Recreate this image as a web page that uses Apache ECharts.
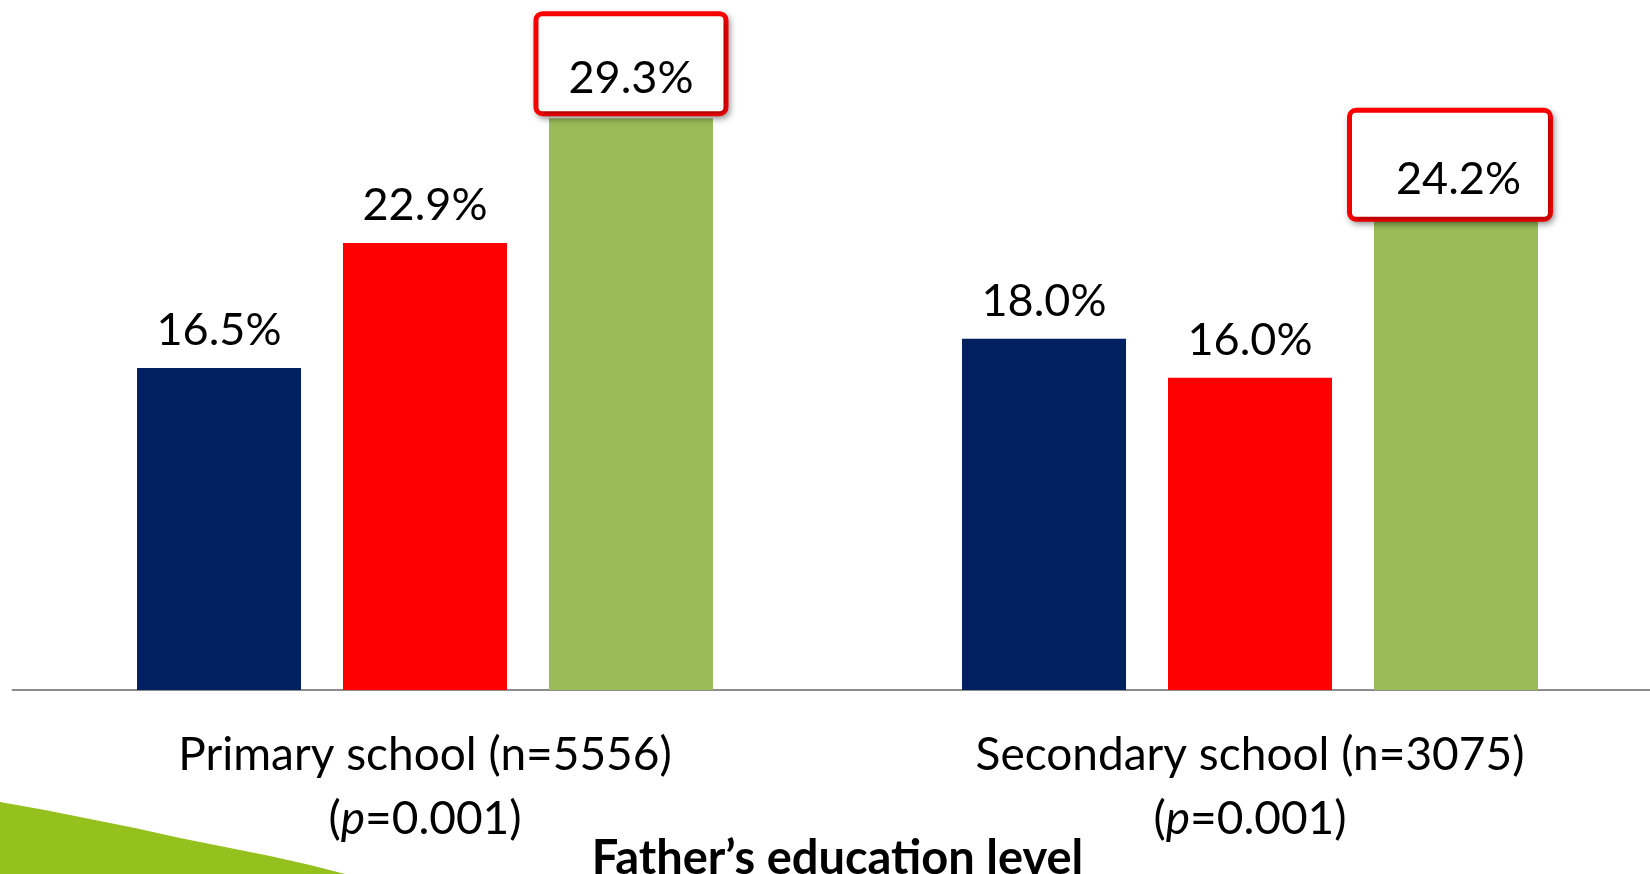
<!DOCTYPE html>
<html>
<head>
<meta charset="utf-8">
<script src="https://cdn.jsdelivr.net/npm/echarts@6/dist/echarts.min.js"></script>
<style>
  html, body { margin: 0; padding: 0; background: #fff; }
  #chart { width: 1650px; height: 874px; }
</style>
</head>
<body>
<div id="chart"></div>
<script>
// Father's education level groups
const categories = ['Primary school (n=5556)', 'Secondary school (n=3075)'];
const pValues = ['0.001', '0.001'];

// Percentages per group
const seriesNames = ['Group 1', 'Group 2', 'Group 3'];
const valuesNavy = [16.5, 18.0];
const valuesRed = [22.9, 16.0];
const valuesGreen = [29.3, 24.2];

const FONT = 'Lato, "Open Sans", sans-serif';
const labelFont = { fontFamily: FONT, fontSize: 45, color: '#000' };

function plainLabel() {
  return Object.assign({
    show: true,
    position: 'top',
    distance: 15,
    formatter: p => p.value.toFixed(1) + '%'
  }, labelFont);
}

// Highlighted values sit in a red framed box
const boxedLabelPadding = [[37, 30, 8, 30], [42, 27, 12, 44]];
const boxedLabelDistance = [7, 1];
const boxedLabelShift = [0, -6];
function boxedData(values) {
  return values.map((v, i) => ({
    value: v,
    label: Object.assign(plainLabel(), {
      distance: boxedLabelDistance[i],
      offset: [boxedLabelShift[i], 0],
      lineHeight: 50,
      padding: boxedLabelPadding[i],
      backgroundColor: '#fff',
      borderColor: '#ff0000',
      borderWidth: 5,
      borderRadius: 4,
      shadowColor: 'rgba(0,0,0,0.35)',
      shadowBlur: 6,
      shadowOffsetX: 2,
      shadowOffsetY: 3
    })
  }));
}

// Decorative swoosh in the lower-left corner
const swooshPoints = [[0, 802], [45, 810], [90, 819], [135, 828], [180, 838], [225, 847], [270, 856], [310, 865], [345, 874], [0, 874]];

const chart = echarts.init(document.getElementById('chart'));
chart.setOption({
  animation: false,
  backgroundColor: '#fff',
  graphic: [{
    type: 'polygon',
    z: 0,
    shape: { points: swooshPoints },
    style: { fill: '#95c11f' }
  }],
  grid: { left: 12.5, top: 7, width: 1650, height: 683, outerBoundsMode: 'none', containLabel: false },
  xAxis: {
    type: 'category',
    data: categories,
    axisLine: { lineStyle: { color: '#8c8c8c', width: 2 } },
    axisTick: { show: false },
    axisLabel: {
      margin: 33,
      formatter: (val, idx) => val + '\n({i|p}=' + pValues[idx] + ')',
      fontFamily: FONT,
      fontSize: 46,
      lineHeight: 64,
      color: '#000',
      rich: {
        i: { fontFamily: FONT, fontSize: 46, fontStyle: 'italic', color: '#000', lineHeight: 64 }
      }
    },
    name: 'Father\u2019s education level',
    nameLocation: 'middle',
    nameGap: 145,
    nameMoveOverlap: false,
    nameTextStyle: { fontFamily: FONT, fontSize: 47, fontWeight: 'bold', color: '#000' }
  },
  yAxis: {
    type: 'value',
    min: 0,
    max: 35,
    show: false,
    splitLine: { show: false }
  },
  series: [
    {
      name: seriesNames[0], type: 'bar', data: valuesNavy,
      barWidth: 164, barGap: '25.6%',
      itemStyle: { color: '#002060' },
      label: plainLabel()
    },
    {
      name: seriesNames[1], type: 'bar', data: valuesRed,
      barWidth: 164, barGap: '25.6%',
      itemStyle: { color: '#ff0000' },
      label: plainLabel()
    },
    {
      name: seriesNames[2], type: 'bar', data: boxedData(valuesGreen),
      barWidth: 164, barGap: '25.6%',
      itemStyle: { color: '#9bbb59' },
      label: plainLabel()
    }
  ]
});
</script>
</body>
</html>
